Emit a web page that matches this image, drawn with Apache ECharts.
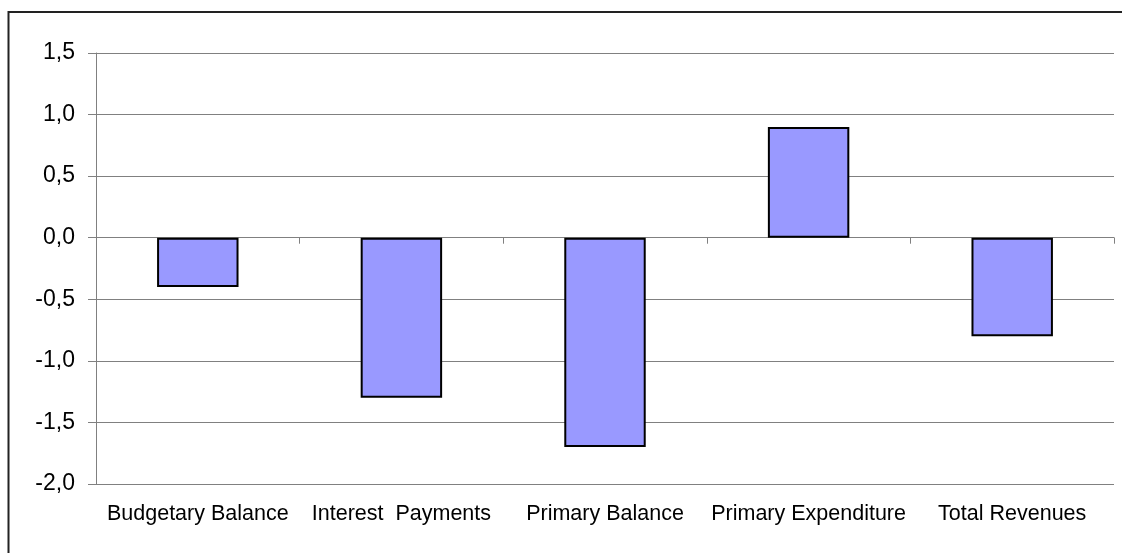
<!DOCTYPE html>
<html>
<head>
<meta charset="utf-8">
<script src="https://cdn.jsdelivr.net/npm/echarts@6/dist/echarts.min.js"></script>
<style>
html,body{margin:0;padding:0;background:#fff;}
#chart{width:1122px;height:553px;}
</style>
</head>
<body>
<div id="chart"></div>
<script>
const categories = ['Budgetary Balance', 'Interest  Payments', 'Primary Balance', 'Primary Expenditure', 'Total Revenues'];
const values = [-0.4, -1.3, -1.7, 0.9, -0.8];
const yMin = -2.0, yMax = 1.5, yStep = 0.5;

const chart = echarts.init(document.getElementById('chart'), null, {renderer: 'canvas'});
const font = 'Liberation Sans, Arial, sans-serif';
chart.setOption({
  animation: false,
  backgroundColor: '#ffffff',
  graphic: [{
    type: 'rect',
    shape: {x: 8.5, y: 12, width: 1200, height: 600},
    style: {fill: 'none', stroke: '#222', lineWidth: 2},
    silent: true, z: 100
  }],
  grid: {left: 96, right: 8, top: 53, bottom: 69, containLabel: false},
  xAxis: [{
    type: 'category',
    data: categories,
    position: 'bottom',
    axisLine: {show: false, onZero: false},
    axisTick: {show: false},
    axisLabel: {color: '#000', fontFamily: font, fontSize: 21.5, margin: 19, interval: 0}
  }, {
    type: 'category',
    data: categories,
    position: 'bottom',
    axisLine: {show: true, onZero: true, lineStyle: {color: '#808080', width: 1}},
    axisTick: {show: true, length: 6, lineStyle: {color: '#808080'}},
    axisLabel: {show: false}
  }],
  yAxis: {
    type: 'value',
    min: yMin, max: yMax, interval: yStep,
    axisLine: {show: true, lineStyle: {color: '#808080', width: 1}},
    axisTick: {show: true, length: 8, lineStyle: {color: '#808080'}},
    splitLine: {show: true, lineStyle: {color: '#808080', width: 1}},
    axisLabel: {
      color: '#000', fontFamily: font, fontSize: 23, margin: 21,
      formatter: v => v.toFixed(1).replace('.', ',')
    }
  },
  series: [{
    type: 'bar',
    xAxisIndex: 0,
    data: values,
    barCategoryGap: '60%',
    itemStyle: {color: '#9999FF', borderColor: '#000', borderWidth: 2},
    z: 3
  }]
});
</script>
</body>
</html>
